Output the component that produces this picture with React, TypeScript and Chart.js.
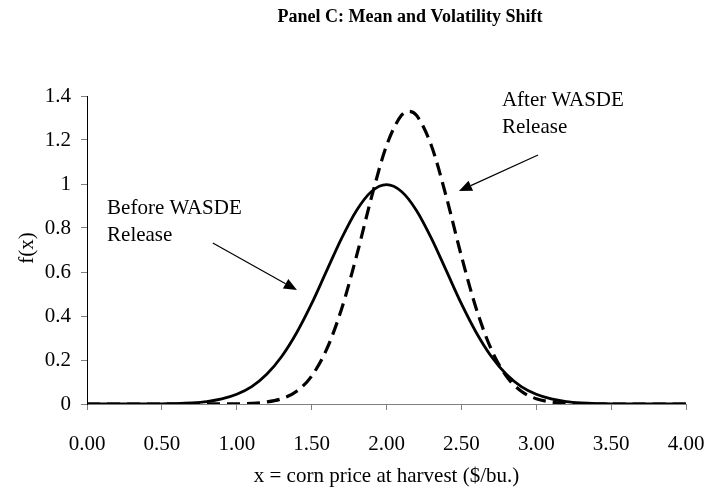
import React, { useEffect, useRef } from "react";
import { Chart, registerables } from "chart.js";

Chart.register(...registerables);

// x = corn price at harvest ($/bu.)
const priceX = [
  0.0, 0.1, 0.2, 0.3, 0.4, 0.5, 0.6, 0.7, 0.8, 0.9,
  1.0, 1.1, 1.2, 1.3, 1.4, 1.5, 1.6, 1.7, 1.8, 1.9,
  2.0, 2.1, 2.2, 2.3, 2.4, 2.5, 2.6, 2.7, 2.8, 2.9,
  3.0, 3.1, 3.2, 3.3, 3.4, 3.5, 3.6, 3.7, 3.8, 3.9, 4.0,
];

// Before WASDE release density
const beforeDensity = [
  0, 0, 0, 0, 0, 0.001, 0.002, 0.005, 0.011, 0.023,
  0.044, 0.079, 0.135, 0.216, 0.324, 0.456, 0.605, 0.753, 0.88, 0.966,
  0.997, 0.966, 0.88, 0.753, 0.605, 0.456, 0.324, 0.216, 0.135, 0.079,
  0.044, 0.023, 0.011, 0.005, 0.002, 0.001, 0, 0, 0, 0, 0,
];

// After WASDE release density
const afterX = [
  0.0, 0.5, 1.0, 1.1, 1.2, 1.3, 1.4, 1.5, 1.6, 1.7, 1.8, 1.9,
  2.0, 2.1, 2.15, 2.2, 2.3, 2.4, 2.5, 2.6, 2.7, 2.8, 2.9,
  3.0, 3.1, 3.2, 3.3, 3.4, 3.5, 4.0,
];
const afterDensity = [
  0, 0, 0.001, 0.003, 0.009, 0.024, 0.058, 0.127, 0.248, 0.432, 0.673, 0.94,
  1.174, 1.312, 1.33, 1.312, 1.174, 0.94, 0.673, 0.432, 0.248, 0.127, 0.058,
  0.024, 0.009, 0.003, 0.001, 0, 0, 0,
];

const xTicks = [0, 0.5, 1, 1.5, 2, 2.5, 3, 3.5, 4];
const yTicks = [0, 0.2, 0.4, 0.6, 0.8, 1, 1.2, 1.4];

const titleText = "Panel C: Mean and Volatility Shift";
const xTitle = "x = corn price at harvest ($/bu.)";
const yTitle = "f(x)";

// annotation labels (lines) and their anchor in data units
const beforeLabel = ["Before WASDE", "Release"];
const beforeLabelAt = [0.134, 0.864, 0.741];
const afterLabel = ["After WASDE", "Release"];
const afterLabelAt = [2.771, 1.355, 1.232];
// arrows: [fromX, fromY, toX, toY] in data units
const beforeArrow = [0.84, 0.732, 1.402, 0.518];
const afterArrow = [3.012, 1.132, 2.484, 0.968];

const SERIF = "'Liberation Serif', 'Times New Roman', Times, serif";

export default function App() {
  const ref = useRef<HTMLCanvasElement>(null);

  useEffect(() => {
    if (!ref.current) return;

    const textPlugin = {
      id: "panelText",
      afterDraw(chart: any) {
        const ctx = chart.ctx as CanvasRenderingContext2D;
        const xs = chart.scales.x;
        const ys = chart.scales.y;
        ctx.save();
        ctx.fillStyle = "#000";
        ctx.strokeStyle = "#000";

        // title
        ctx.font = `bold 18px ${SERIF}`;
        ctx.textAlign = "center";
        ctx.textBaseline = "alphabetic";
        ctx.fillText(titleText, 410, 22);

        // x title
        ctx.font = `21px ${SERIF}`;
        ctx.fillText(xTitle, (chart.chartArea.left + chart.chartArea.right) / 2, 482);

        // y title
        ctx.save();
        ctx.translate(27, 248);
        ctx.rotate(-Math.PI / 2);
        ctx.textAlign = "center";
        ctx.textBaseline = "middle";
        ctx.fillText(yTitle, 0, 0);
        ctx.restore();

        // labels
        ctx.textAlign = "left";
        ctx.textBaseline = "alphabetic";
        const drawLabel = (lines: string[], at: number[]) => {
          const px = xs.getPixelForValue(at[0]);
          lines.forEach((ln, i) => {
            ctx.fillText(ln, px, ys.getPixelForValue(at[1 + i]));
          });
        };
        drawLabel(beforeLabel, beforeLabelAt);
        drawLabel(afterLabel, afterLabelAt);

        const drawArrow = (a: number[]) => {
          const x1 = xs.getPixelForValue(a[0]);
          const y1 = ys.getPixelForValue(a[1]);
          const x2 = xs.getPixelForValue(a[2]);
          const y2 = ys.getPixelForValue(a[3]);
          const ang = Math.atan2(y2 - y1, x2 - x1);
          const headLen = 13;
          const headW = 5.5;
          const bx = x2 - headLen * Math.cos(ang);
          const by = y2 - headLen * Math.sin(ang);
          ctx.lineWidth = 1.2;
          ctx.beginPath();
          ctx.moveTo(x1, y1);
          ctx.lineTo(bx, by);
          ctx.stroke();
          ctx.beginPath();
          ctx.moveTo(x2, y2);
          ctx.lineTo(bx + headW * Math.sin(ang), by - headW * Math.cos(ang));
          ctx.lineTo(bx - headW * Math.sin(ang), by + headW * Math.cos(ang));
          ctx.closePath();
          ctx.fill();
        };
        drawArrow(beforeArrow);
        drawArrow(afterArrow);
        ctx.restore();
      },
    };

    const chart = new Chart(ref.current, {
      type: "line",
      data: {
        datasets: [
          {
            label: "Before WASDE Release",
            data: priceX.map((x, i) => ({ x, y: beforeDensity[i] })),
            borderColor: "#000",
            borderWidth: 2.8,
            pointRadius: 0,
            fill: false,
            cubicInterpolationMode: "monotone",
          },
          {
            label: "After WASDE Release",
            data: afterX.map((x, i) => ({ x, y: afterDensity[i] })),
            borderColor: "#000",
            borderWidth: 3.2,
            borderDash: [13, 7],
            pointRadius: 0,
            fill: false,
            cubicInterpolationMode: "monotone",
          },
        ],
      },
      options: {
        responsive: false,
        animation: false,
        devicePixelRatio: 1,
        layout: { padding: { top: 96, right: 23, left: 0, bottom: 0 } },
        plugins: {
          legend: { display: false },
          tooltip: { enabled: false },
          title: { display: false },
        },
        scales: {
          x: {
            type: "linear",
            min: 0,
            max: 4,
            afterFit: (s: any) => {
              s.height = 84;
              s.paddingLeft = 0;
              s.paddingRight = 0;
            },
            afterBuildTicks: (s: any) => {
              s.ticks = xTicks.map((v) => ({ value: v }));
            },
            ticks: {
              padding: 22,
              color: "#000",
              font: { family: SERIF, size: 21 },
              maxRotation: 0,
              autoSkip: false,
              callback: (v: any) => Number(v).toFixed(2),
            },
            grid: {
              display: true,
              drawOnChartArea: false,
              drawTicks: true,
              tickLength: 6,
              tickColor: "#808080",
              color: "#808080",
            },
            border: { display: true, color: "#808080", width: 1 },
          },
          y: {
            type: "linear",
            min: 0,
            max: 1.4,
            afterFit: (s: any) => {
              s.width = 87;
              s.paddingTop = 0;
              s.paddingBottom = 0;
            },
            afterBuildTicks: (s: any) => {
              s.ticks = yTicks.map((v) => ({ value: v }));
            },
            ticks: {
              padding: 10,
              color: "#000",
              font: { family: SERIF, size: 21 },
              autoSkip: false,
              callback: (v: any) => String(parseFloat(Number(v).toFixed(1))),
            },
            grid: {
              display: true,
              drawOnChartArea: false,
              drawTicks: true,
              tickLength: 6,
              tickColor: "#808080",
              color: "#808080",
            },
            border: { display: true, color: "#000", width: 1 },
          },
        },
      },
      plugins: [textPlugin],
    });

    return () => chart.destroy();
  }, []);

  return (
    <div
      style={{
        position: "fixed",
        left: 0,
        top: 0,
        width: 709,
        height: 488,
        background: "#fff",
      }}
    >
      <canvas
        ref={ref}
        width={709}
        height={488}
        style={{ display: "block", width: 709, height: 488 }}
      />
    </div>
  );
}
